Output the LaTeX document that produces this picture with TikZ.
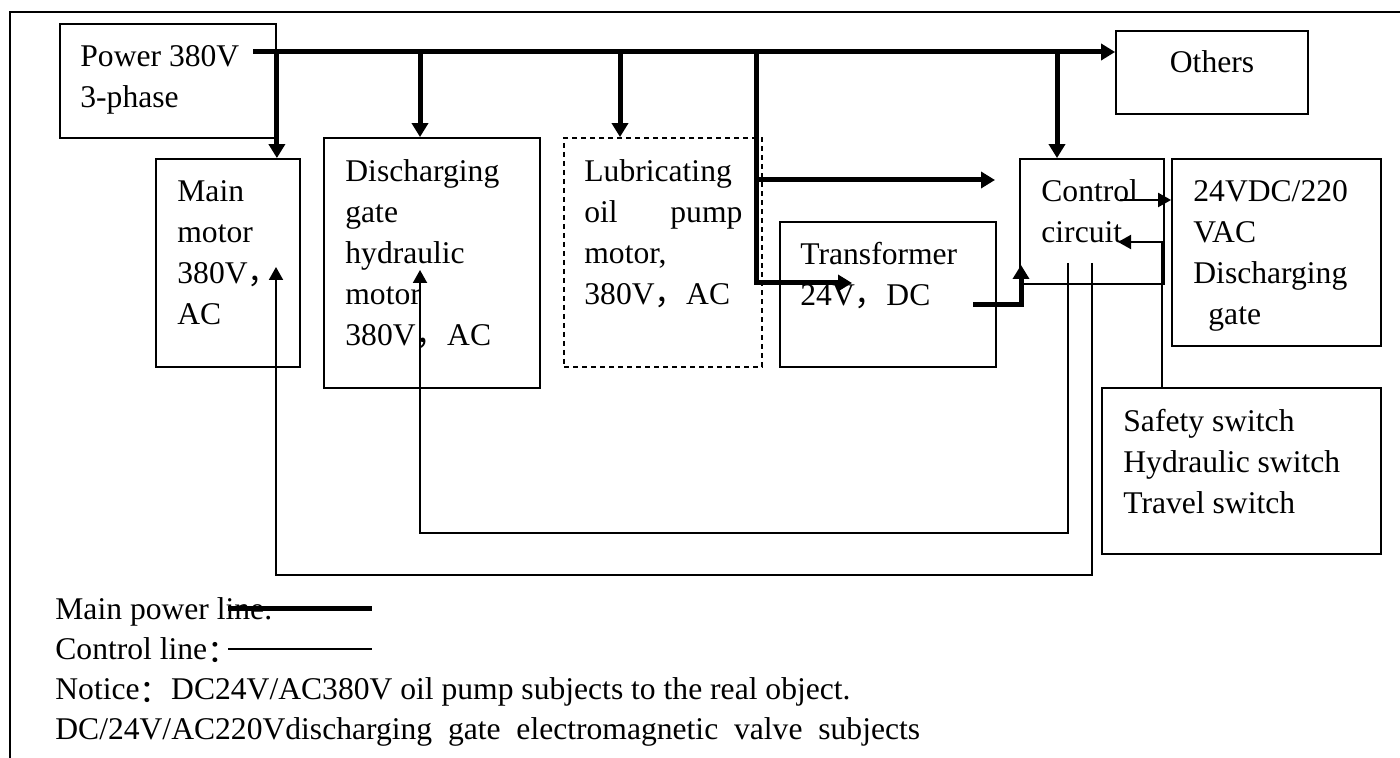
\documentclass[tikz,border=0pt]{standalone}
\usepackage{fontspec}
\setmainfont{Liberation Serif}
\newfontfamily\cjk{Noto Sans CJK SC}
\usepackage{tikz}
\usetikzlibrary{arrows.meta,fit}
\newcommand{\fwc}{{\cjk ，}}
\newcommand{\fwcol}{\raisebox{-0.12em}{\cjk ：}}

\begin{document}
\begin{tikzpicture}[
  x=0.5pt, y=-0.5pt,
  box/.style={draw, line width=0.9pt, inner sep=0pt},
  dashbox/.style={box, dash pattern=on 2.5pt off 2pt},
  txt/.style={anchor=base west, align=left, inner sep=0pt, font=\fontsize{15.8}{20.5}\selectfont},
  pline/.style={line width=2.5pt, -{Triangle[length=7pt,width=8pt]}},
  cline/.style={line width=1pt, -{Triangle[length=6.5pt,width=7pt]}}
]
\useasboundingbox (0,0) rectangle (1400,758);
\draw[line width=1pt] (1400,12) -- (10,12) -- (10,758);

% boxes
\node[box, fit={(60,24)(276,138)}] (power) {};
\node[box, fit={(156,159)(300,367)}] (main) {};
\node[box, fit={(324,138)(540,388)}] (dis) {};
\node[dashbox, fit={(564,138)(762,367)}] (lub) {};
\node[box, fit={(780,222)(996,367)}] (trafo) {};
\node[box, fit={(1020,159)(1164,284)}] (ctrl) {};
\node[box, fit={(1116,31)(1308,114)}] (others) {};
\node[box, fit={(1172,159)(1381,346)}] (gate) {};
\node[box, fit={(1102,388)(1381,554)}] (sw) {};

% texts (anchored at the baseline of the last line)
\node[txt] (powerT) at (80,108) {Power 380V\\3-phase};
\node[txt] (mainT) at (177,325) {Main\\motor\\380V\fwc\\AC};
\node[txt] (disT) at (345,346) {Discharging\\gate\\hydraulic\\motor\\380V\fwc AC};
\node[txt] (lubT) at (584,305) {Lubricating\\\makebox[79pt][s]{oil\hfill pump}\\motor,\\380V\fwc AC};
\node[txt] (trafoT) at (800,306) {Transformer\\24V\fwc DC};
\node[txt] (ctrlT) at (1041,243) {Control\\circuit};
\node[txt] (gateT) at (1193,325) {24VDC/220\\VAC\\Discharging\\\hspace*{7.5pt}gate};
\node[txt, anchor=base] (othersT) at (1212,73) {Others};
\node[txt] (swT) at (1123,513) {Safety switch\\Hydraulic switch\\Travel switch};

% junctions
\coordinate (src) at (253,52);
\coordinate (j2) at (420,52);
\coordinate (j3) at (620,52);
\coordinate (j4) at (756,52);
\coordinate (j5) at (1057,52);
\coordinate (t_in) at (852,283);
\coordinate (c_in) at (995,180);
\coordinate (t_out) at (973,305);
\coordinate (c_pw) at (1021,265);
\coordinate (c_a) at (1068,263);
\coordinate (c_b) at (1092,263);
\coordinate (d_in) at (420,270);
\coordinate (m_in) at (276,267);
\coordinate (c_o) at (1120,200);
\coordinate (c_r) at (1118,242);
\coordinate (s_o) at (1162,388);

% main power lines
\draw[pline] (src) -- (src -| others.west);
\draw[pline] (power.east |- src) -- (power.east |- main.north);
\draw[pline] (j2) -- (j2 |- dis.north);
\draw[pline] (j3) -- (j3 |- lub.north);
\draw[pline] (j4) |- (t_in);
\draw[pline] (j4 |- c_in) -- (c_in);
\draw[pline] (j5) -- (j5 |- ctrl.north);
\draw[pline] (t_out) -| (c_pw);

% control lines
\draw[cline] (c_a) -- ++(0,270) -| (d_in);
\draw[cline] (c_b) -- ++(0,312) -| (m_in);
\draw[cline] (c_o) -- (c_o -| gate.west);
\draw[cline] (s_o) |- (c_r);

% legend
\node[txt] (leg1) at (55,619) {Main power line.};
\node[txt] (leg2) at (55,659) {Control line\fwcol};
\node[txt] (leg3) at (55,699) {Notice\fwcol DC24V/AC380V oil pump subjects to the real object.};
\node[txt] (leg4) at (55,739) {DC/24V/AC220Vdischarging\ \ gate\ \ electromagnetic\ \ valve\ \ subjects};
\draw[line width=2.5pt] (228,608) -- (372,608);
\draw[line width=1pt] (228,649) -- (372,649);
\end{tikzpicture}
\end{document}
